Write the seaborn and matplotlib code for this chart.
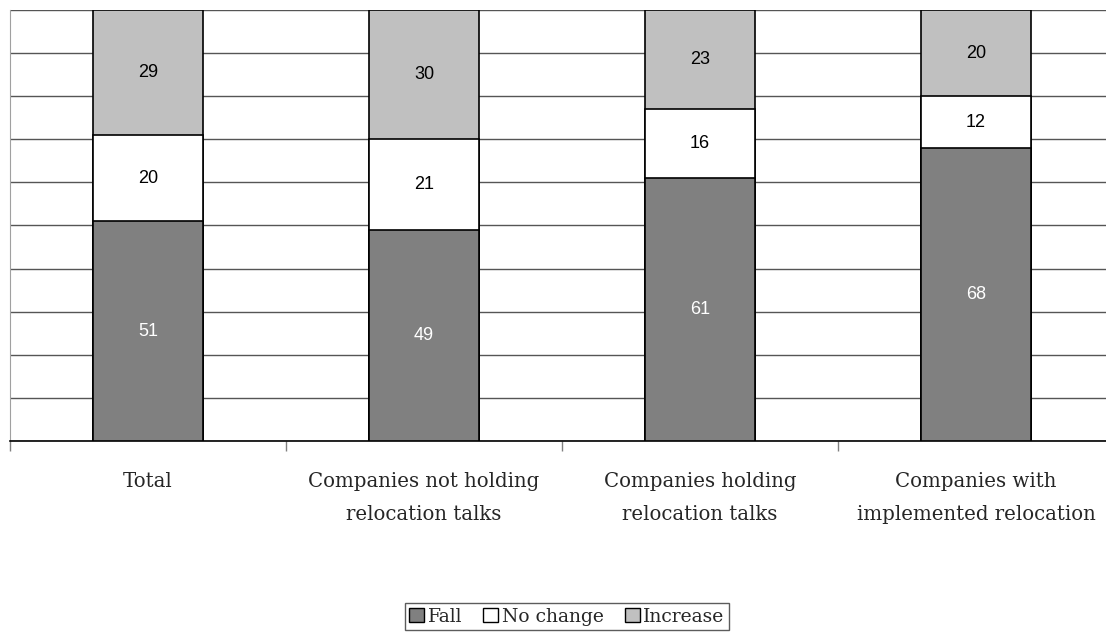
import numpy as np
import pandas as pd
import matplotlib
matplotlib.use('Agg')
import matplotlib.pyplot as plt
import seaborn as sns
from matplotlib.patches import Patch

categories = ['Total', 'Companies not holding\nrelocation talks',
              'Companies holding\nrelocation talks', 'Companies with\nimplemented relocation']
fall = [51, 49, 61, 68]
no_change = [20, 21, 16, 12]
increase = [29, 30, 23, 20]

sns.set_style('white')
plt.rcParams['font.family'] = ['DejaVu Serif', 'Liberation Serif']

df = pd.DataFrame({'cat': categories, 'Fall': fall, 'No change': no_change, 'Increase': increase})
df['c1'] = df['Fall']
df['c2'] = df['Fall'] + df['No change']
df['c3'] = df['c2'] + df['Increase']

fig = plt.figure(figsize=(11.06, 6.33), dpi=100)
ax = fig.add_axes([10 / 1106, 192 / 633, 1104 / 1106, 431 / 633])

colors = {'Fall': '#808080', 'No change': '#ffffff', 'Increase': '#c0c0c0'}
for col, name in [('c3', 'Increase'), ('c2', 'No change'), ('c1', 'Fall')]:
    sns.barplot(data=df, x='cat', y=col, color=colors[name], width=0.4,
                edgecolor='black', linewidth=1.2, saturation=1, ax=ax, zorder=3)

# segment labels
for i in range(len(categories)):
    ax.text(i, fall[i] / 2, str(fall[i]), ha='center', va='center', color='white',
            fontsize=13, family='Liberation Sans', zorder=5)
    ax.text(i, fall[i] + no_change[i] / 2, str(no_change[i]), ha='center', va='center',
            color='black', fontsize=13, family='Liberation Sans', zorder=5)
    ax.text(i, fall[i] + no_change[i] + increase[i] / 2, str(increase[i]), ha='center',
            va='center', color='black', fontsize=13, family='Liberation Sans', zorder=5)

ax.set_ylim(0, 100)
ax.set_xlim(-0.5, 3.5)
ax.set_yticks(np.arange(0, 101, 10))
ax.set_yticklabels([])
ax.yaxis.grid(True, color='#555555', linewidth=1, zorder=0)
ax.set_axisbelow(True)
ax.set_xlabel('')
ax.set_ylabel('')
ax.set_xticks(range(len(categories)))
ax.set_xticklabels(categories, linespacing=1.95)
ax.tick_params(axis='x', which='major', length=0, labelsize=14.2, pad=22)
ax.set_xticks(np.arange(-0.5, 4, 1), minor=True)
ax.tick_params(axis='x', which='minor', bottom=True, length=7, color='#808080',
               width=1, direction='out')
ax.tick_params(axis='y', length=0)
for s in ['top', 'right']:
    ax.spines[s].set_visible(False)
ax.spines['left'].set_color('#a0a0a0')
ax.spines['bottom'].set_color('black')
ax.spines['bottom'].set_linewidth(1.2)

handles = [Patch(facecolor=colors[n], edgecolor='black', label=n) for n in ['Fall', 'No change', 'Increase']]
leg = fig.legend(handles=handles, loc='upper center', bbox_to_anchor=(567 / 1106, 1 - 603 / 633),
                 ncol=3, frameon=True, fancybox=False, fontsize=13.5, handlelength=0.8,
                 handleheight=0.8, handletextpad=0.2, columnspacing=1.1, borderpad=0.25,
                 borderaxespad=0)
leg.get_frame().set_edgecolor('#333333')
leg.get_frame().set_linewidth(1)

fig.savefig('out.png', dpi=100)
